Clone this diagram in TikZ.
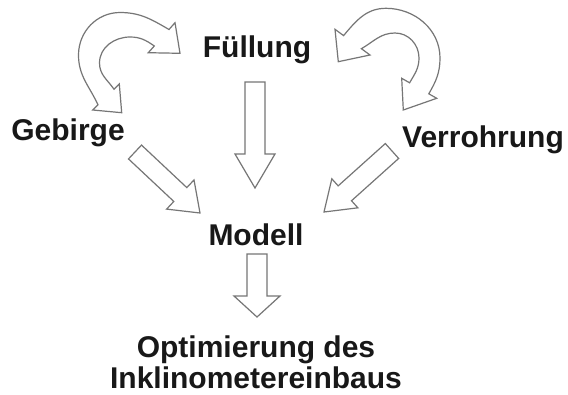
\documentclass[tikz,border=0pt]{standalone}
\usepackage{fontspec}
\setmainfont{Liberation Sans}
\usetikzlibrary{calc}
\definecolor{arrowgray}{RGB}{118,118,118}
\definecolor{textblack}{RGB}{24,24,24}
\tikzset{
  blockarrow/.style={draw=arrowgray, fill=white, line width=1.2pt, line join=miter},
  lbl/.style={font=\fontsize{30}{31}\selectfont\bfseries, text=textblack, inner sep=0pt, anchor=base},
}
\newcommand\blockarrow[5]{%
  \path ($(#2)!#5!(#1)$) coordinate (ba-h);
  \draw[blockarrow] ($(#1)!#3!90:(#2)$) -- ($(ba-h)!#3!-90:(#1)$) -- ($(ba-h)!#4!-90:(#1)$) -- (#2)
    -- ($(ba-h)!#4!90:(#1)$) -- ($(ba-h)!#3!90:(#1)$) -- ($(#1)!#3!-90:(#2)$) -- cycle;
}
\begin{document}
\begin{tikzpicture}[x=1pt,y=-1pt]
\useasboundingbox (0,0) rectangle (568,394);
\fill[white] (0,0) rectangle (568,394);

% labels
\node[lbl] (fuel) at (257,57) {Füllung};
\node[lbl] (geb) at (68,140) {Gebirge};
\node[lbl] (verr) at (483,147) {Verrohrung};
\node[lbl] (mod) at (256,245) {Modell};
\node[lbl, align=center] (opt) at (256,388) {Optimierung des\\Inklinometereinbaus};

% straight block arrows
\coordinate (a1t) at (255,82);  \coordinate (a1p) at (255,188);
\coordinate (a2t) at (257,254); \coordinate (a2p) at (257,317);
\coordinate (a3t) at (135,152); \coordinate (a3p) at (200,213);
\coordinate (a4t) at (392,151); \coordinate (a4p) at (324,212);
\blockarrow{a1t}{a1p}{10pt}{20pt}{34pt}
\blockarrow{a2t}{a2p}{10pt}{23pt}{21pt}
\blockarrow{a3t}{a3p}{9.5pt}{20pt}{27pt}
\blockarrow{a4t}{a4p}{10pt}{19.5pt}{28pt}

% left curved double arrow
\coordinate (lc-tipB) at (121.7,112.7);
\coordinate (lc-obB) at (92.7,110);
\coordinate (lc-o1) at (98,104.8);
\coordinate (lc-ol) at (78.5,55);
\coordinate (lc-ot) at (120,12.5);
\coordinate (lc-o2) at (169,29.5);
\coordinate (lc-obR) at (175,22.7);
\coordinate (lc-tipR) at (180,53.3);
\coordinate (lc-ibR) at (148.3,52.7);
\coordinate (lc-i2) at (154.3,46);
\coordinate (lc-it) at (130,37);
\coordinate (lc-il) at (99.5,63);
\coordinate (lc-i1) at (114,89.2);
\coordinate (lc-ibB) at (119.3,84);
\draw[blockarrow] (lc-tipB) -- (lc-obB) -- (lc-o1) to[out=115,in=-90] (lc-ol)
  to[out=90,in=180] (lc-ot) to[out=0,in=150] (lc-o2) -- (lc-obR) -- (lc-tipR)
  -- (lc-ibR) -- (lc-i2) to[out=145,in=0] (lc-it) to[out=180,in=90] (lc-il)
  to[out=-90,in=125] (lc-i1) -- (lc-ibB) -- cycle;

% right curved double arrow
\coordinate (rc-tipL) at (338.3,61.7);
\coordinate (rc-obL) at (335,29.3);
\coordinate (rc-o2) at (343.6,35.6);
\coordinate (rc-ot) at (386,8.3);
\coordinate (rc-or) at (440,58);
\coordinate (rc-o1) at (428.8,93.8);
\coordinate (rc-obB) at (436.7,98.3);
\coordinate (rc-tipB) at (403.3,110);
\coordinate (rc-ibB) at (401.7,78.3);
\coordinate (rc-i1) at (409.6,82.8);
\coordinate (rc-ir) at (419,58);
\coordinate (rc-it) at (395,33);
\coordinate (rc-i2) at (361.4,48.7);
\coordinate (rc-ibL) at (370,55);
\draw[blockarrow] (rc-tipL) -- (rc-obL) -- (rc-o2) to[out=50,in=180] (rc-ot)
  to[out=0,in=90] (rc-or) to[out=-90,in=60] (rc-o1) -- (rc-obB) -- (rc-tipB)
  -- (rc-ibB) -- (rc-i1) to[out=60,in=-90] (rc-ir) to[out=90,in=0] (rc-it)
  to[out=180,in=30] (rc-i2) -- (rc-ibL) -- cycle;
\end{tikzpicture}
\end{document}
